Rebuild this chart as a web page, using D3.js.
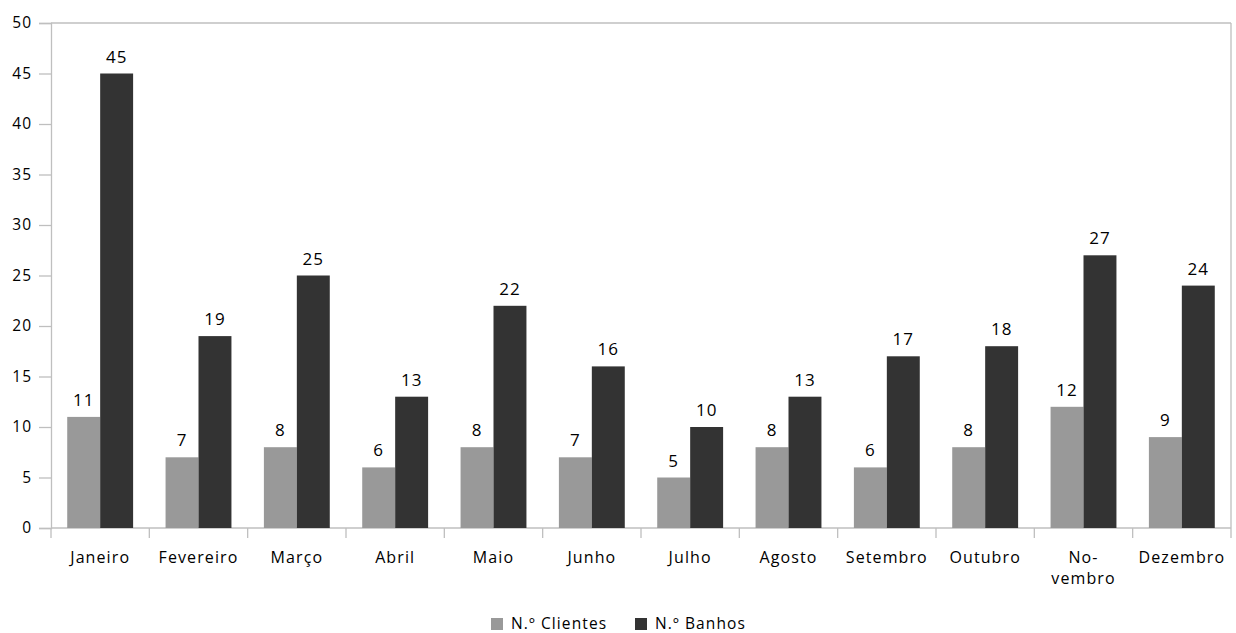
<!DOCTYPE html>
<html>
<head>
<meta charset="utf-8">
<script src="https://cdn.jsdelivr.net/npm/d3@7"></script>
<style>
  html, body { margin: 0; padding: 0; background: #fff; }
  svg { display: block; }
  text { font-family: "Open Sans", "Noto Sans", sans-serif; fill: #000; }
</style>
</head>
<body>
<svg id="chart" width="1236" height="633"></svg>
<script>
// Monthly figures
const months = ["Janeiro", "Fevereiro", "Março", "Abril", "Maio", "Junho", "Julho", "Agosto", "Setembro", "Outubro", "No-\nvembro", "Dezembro"];
const clientes = [11, 7, 8, 6, 8, 7, 5, 8, 6, 8, 12, 9];
const banhos = [45, 19, 25, 13, 22, 16, 10, 13, 17, 18, 27, 24];
const seriesNames = ["N.º Clientes", "N.º Banhos"];
const yTicks = [0, 5, 10, 15, 20, 25, 30, 35, 40, 45, 50];

const colors = ["#999999", "#333333"];
const axisColor = "#bfbfbf";

const svg = d3.select("#chart");
const margin = { left: 51, right: 5, top: 23, bottom: 105 };
const W = 1236, H = 633;
const plotW = W - margin.left - margin.right;
const plotH = H - margin.top - margin.bottom;

const g = svg.append("g").attr("transform", `translate(${margin.left},${margin.top})`);

const x = d3.scaleBand().domain(months).range([0, plotW]).paddingInner(0).paddingOuter(0);
const innerPad = 0.165;
const xs = d3.scaleBand().domain(seriesNames)
  .range([x.bandwidth() * innerPad, x.bandwidth() * (1 - innerPad)]);
const y = d3.scaleLinear().domain([0, 50]).range([plotH, 0]);

// plot frame (top and right edges)
g.append("line").attr("x1", 0).attr("x2", plotW).attr("y1", 0).attr("y2", 0)
  .attr("stroke", axisColor).attr("stroke-width", 1.3);
g.append("line").attr("x1", plotW).attr("x2", plotW).attr("y1", 0).attr("y2", plotH)
  .attr("stroke", axisColor).attr("stroke-width", 1.3);

// y axis
const yAxis = g.append("g")
  .call(d3.axisLeft(y).tickValues(yTicks).tickSize(12).tickPadding(7).tickFormat(d3.format("d")));
yAxis.select(".domain").attr("stroke", axisColor).attr("stroke-width", 1.3);
yAxis.selectAll(".tick line").attr("stroke", axisColor).attr("stroke-width", 1.3);
yAxis.selectAll("text").attr("font-size", 15.5).attr("fill", "#000")
  .attr("letter-spacing", 1)
  .attr("font-family", "'Open Sans', sans-serif");

// x axis baseline and category separators
const xAxisG = g.append("g").attr("transform", `translate(0,${plotH})`);
xAxisG.append("line").attr("x1", 0).attr("x2", plotW).attr("stroke", axisColor).attr("stroke-width", 1.3);
const bounds = d3.range(months.length + 1).map(i => i * x.step());
xAxisG.selectAll("line.sep").data(bounds).join("line").attr("class", "sep")
  .attr("x1", d => d).attr("x2", d => d).attr("y1", 0).attr("y2", 10)
  .attr("stroke", axisColor).attr("stroke-width", 1.3);

xAxisG.selectAll("text.cat").data(months).join("text").attr("class", "cat")
  .attr("text-anchor", "middle").attr("font-size", 16).attr("letter-spacing", 1.1)
  .attr("transform", d => `translate(${x(d) + x.bandwidth() / 2},0)`)
  .each(function (d) {
    const lines = d.split("\n");
    d3.select(this).selectAll("tspan").data(lines).join("tspan")
      .attr("x", 0).attr("y", (l, i) => 35 + i * 21).text(l => l);
  });

// bars
const rows = months.map((m, i) => ({ m, vals: [clientes[i], banhos[i]] }));
const groups = g.selectAll("g.month").data(rows).join("g").attr("class", "month")
  .attr("transform", d => `translate(${x(d.m)},0)`);

groups.selectAll("rect").data(d => d.vals.map((v, k) => ({ v, k })))
  .join("rect")
  .attr("x", d => xs(seriesNames[d.k]))
  .attr("width", xs.bandwidth())
  .attr("y", d => y(d.v))
  .attr("height", d => plotH - y(d.v))
  .attr("fill", d => colors[d.k]);

groups.selectAll("text.val").data(d => d.vals.map((v, k) => ({ v, k })))
  .join("text").attr("class", "val")
  .attr("x", d => xs(seriesNames[d.k]) + xs.bandwidth() / 2)
  .attr("y", d => y(d.v) - 11)
  .attr("text-anchor", "middle").attr("font-size", 17).attr("letter-spacing", 1)
  .text(d => d.v);

// legend
const legend = svg.append("g").attr("transform", "translate(491,623)");
const legendOffsets = [0, 144];
seriesNames.forEach((name, k) => {
  const lg = legend.append("g").attr("transform", `translate(${legendOffsets[k]},0)`);
  lg.append("rect").attr("x", 0).attr("y", -5).attr("width", 12).attr("height", 12).attr("fill", colors[k]);
  lg.append("text").attr("x", 20).attr("y", 5.5).attr("font-size", 15.5).attr("letter-spacing", 1.1).text(name);
});
</script>
</body>
</html>
